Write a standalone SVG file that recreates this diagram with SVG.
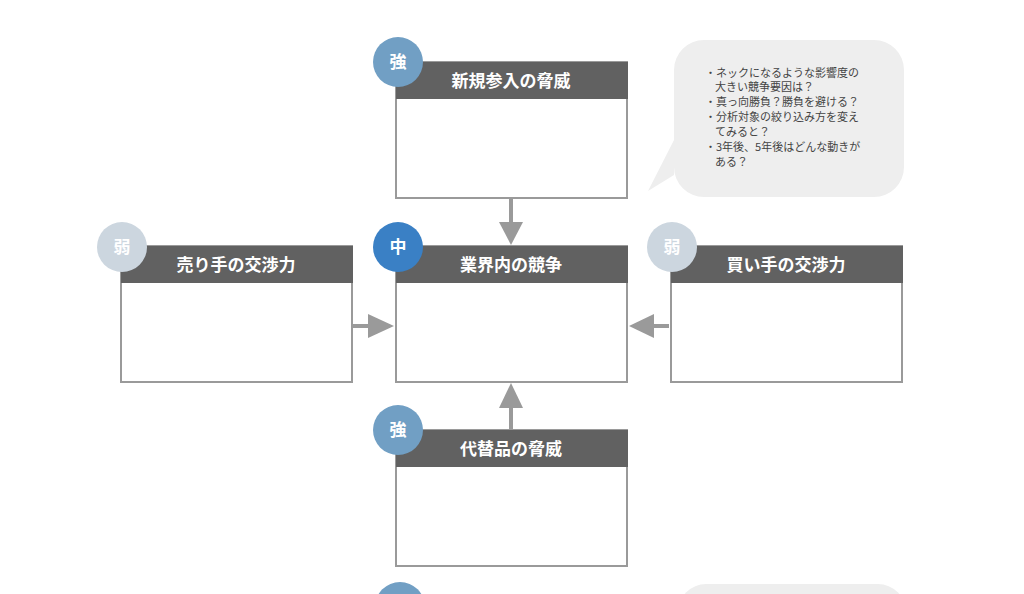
<svg xmlns="http://www.w3.org/2000/svg" width="1024" height="594" viewBox="0 0 1024 594">
<style>
.body{fill:#fff;stroke:#9a9a9a;stroke-width:2}
.hd{fill:#616161}
.ht{font-family:"Noto Sans CJK JP",sans-serif;font-size:17px;font-weight:bold;fill:#fff;text-anchor:middle}
.ct{font-family:"Noto Sans CJK JP",sans-serif;font-size:17px;font-weight:bold;fill:#fff;text-anchor:middle}
.bt{font-family:"Noto Sans CJK JP",sans-serif;font-size:11px;fill:#444}
.ln{stroke:#9a9a9a;stroke-width:4}
.ah{fill:#9a9a9a}
</style>
<rect width="1024" height="594" fill="#fff"/>
<g id="connectors">
<line class="ln" x1="511" y1="199" x2="511" y2="225"/><polygon class="ah" points="499,222 523,222 511,245"/>
<line class="ln" x1="353" y1="326" x2="372" y2="326"/><polygon class="ah" points="368,314 368,338 394,326"/>
<line class="ln" x1="669" y1="326" x2="650" y2="326"/><polygon class="ah" points="654,314 654,338 629,326"/>
<line class="ln" x1="511" y1="429" x2="511" y2="406"/><polygon class="ah" points="499,408 523,408 511,383"/>
</g>
<g id="n-top"><rect class="body" x="396" y="62" width="231" height="136"/><rect class="hd" x="396" y="62" width="232" height="37"/><text class="ht" x="511" y="87">新規参入の脅威</text><circle cx="398" cy="62" r="25" fill="#719fc4"/><text class="ct" x="398" y="68">強</text></g>
<g id="n-center"><rect class="body" x="396" y="246" width="231" height="136"/><rect class="hd" x="396" y="246" width="232" height="37"/><text class="ht" x="511" y="271">業界内の競争</text><circle cx="398" cy="247" r="25" fill="#3a80c5"/><text class="ct" x="398" y="253">中</text></g>
<g id="n-left"><rect class="body" x="121" y="246" width="231" height="136"/><rect class="hd" x="121" y="246" width="232" height="37"/><text class="ht" x="236" y="271">売り手の交渉力</text><circle cx="122" cy="247" r="25" fill="#ccd6df"/><text class="ct" x="122" y="253">弱</text></g>
<g id="n-right"><rect class="body" x="671" y="246" width="231" height="136"/><rect class="hd" x="671" y="246" width="232" height="37"/><text class="ht" x="786" y="271">買い手の交渉力</text><circle cx="672" cy="247" r="25" fill="#ccd6df"/><text class="ct" x="672" y="253">弱</text></g>
<g id="n-bottom"><rect class="body" x="396" y="430" width="231" height="136"/><rect class="hd" x="396" y="430" width="232" height="37"/><text class="ht" x="511" y="455">代替品の脅威</text><circle cx="398" cy="430" r="25" fill="#719fc4"/><text class="ct" x="398" y="436">強</text></g>
<g id="n-next"><circle cx="400" cy="607" r="25" fill="#719fc4"/><rect x="678" y="584" width="228" height="60" rx="28" fill="#eeeeee"/></g>
<g id="bubble">
<path d="M704,40 H874 A30,30 0 0 1 904,70 V167 A30,30 0 0 1 874,197 H704 A30,30 0 0 1 674,167 V175 L648,191 L674,140 V70 A30,30 0 0 1 704,40 Z" fill="#eeeeee"/>
<text class="bt" x="705" y="77">・ネックになるような影響度の</text>
<text class="bt" x="715" y="91">大きい競争要因は？</text>
<text class="bt" x="705" y="106">・真っ向勝負？勝負を避ける？</text>
<text class="bt" x="705" y="121">・分析対象の絞り込み方を変え</text>
<text class="bt" x="715" y="136">てみると？</text>
<text class="bt" x="705" y="151">・3年後、5年後はどんな動きが</text>
<text class="bt" x="715" y="166">ある？</text>
</g>
</svg>
